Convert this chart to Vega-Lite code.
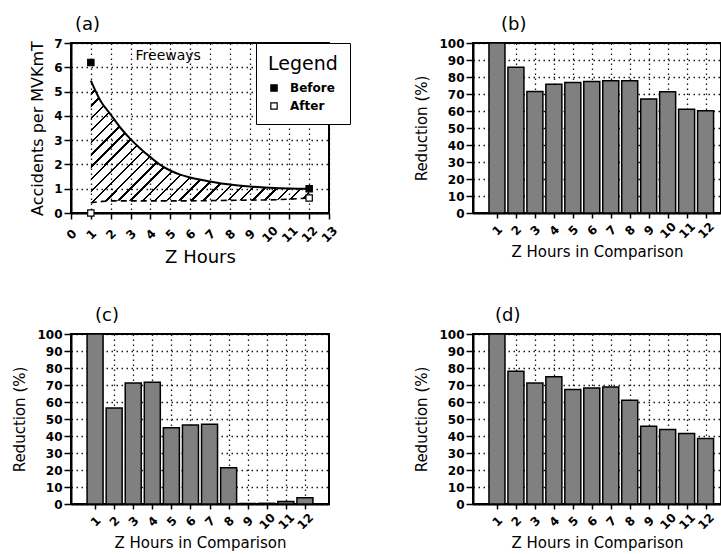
{
  "$schema": "https://vega.github.io/schema/vega-lite/v6.json",
  "background": "white",
  "padding": {"left": 11, "top": 15, "right": 0, "bottom": 0},
  "columns": 2,
  "bounds": "flush",
  "align": "all",
  "spacing": {"row": 121, "column": 144},
  "datasets": {
    "curve": [
      {"z": 1, "before": 5.45, "after": 0.42},
      {"z": 1.5, "before": 4.6, "after": 0.47},
      {"z": 2, "before": 4.05, "after": 0.5},
      {"z": 2.5, "before": 3.5, "after": 0.5},
      {"z": 3, "before": 3.04, "after": 0.5},
      {"z": 3.5, "before": 2.65, "after": 0.5},
      {"z": 4, "before": 2.3, "after": 0.5},
      {"z": 4.5, "before": 1.98, "after": 0.5},
      {"z": 5, "before": 1.75, "after": 0.5},
      {"z": 5.5, "before": 1.58, "after": 0.5},
      {"z": 6, "before": 1.46, "after": 0.5},
      {"z": 7, "before": 1.3, "after": 0.51},
      {"z": 8, "before": 1.17, "after": 0.52},
      {"z": 9, "before": 1.09, "after": 0.53},
      {"z": 10, "before": 1.04, "after": 0.54},
      {"z": 11, "before": 1.01, "after": 0.57},
      {"z": 12, "before": 1.0, "after": 0.62}
    ],
    "markers": [
      {"z": 1, "value": 6.2, "series": "Before"},
      {"z": 12, "value": 1.0, "series": "Before"},
      {"z": 1, "value": 0.0, "series": "After"},
      {"z": 12, "value": 0.62, "series": "After"}
    ],
    "b": [
      {"z": 1, "reduction": 100}, {"z": 2, "reduction": 85.7}, {"z": 3, "reduction": 71.5},
      {"z": 4, "reduction": 75.8}, {"z": 5, "reduction": 76.8}, {"z": 6, "reduction": 77.4},
      {"z": 7, "reduction": 77.8}, {"z": 8, "reduction": 77.8}, {"z": 9, "reduction": 67},
      {"z": 10, "reduction": 71.3}, {"z": 11, "reduction": 61.1}, {"z": 12, "reduction": 60.2}
    ],
    "c": [
      {"z": 1, "reduction": 100}, {"z": 2, "reduction": 56.4}, {"z": 3, "reduction": 71.2},
      {"z": 4, "reduction": 71.6}, {"z": 5, "reduction": 44.9}, {"z": 6, "reduction": 46.4},
      {"z": 7, "reduction": 46.9}, {"z": 8, "reduction": 21.3}, {"z": 9, "reduction": 0.3},
      {"z": 10, "reduction": 0.4}, {"z": 11, "reduction": 1.4}, {"z": 12, "reduction": 3.7}
    ],
    "d": [
      {"z": 1, "reduction": 100}, {"z": 2, "reduction": 78.1}, {"z": 3, "reduction": 71.2},
      {"z": 4, "reduction": 74.8}, {"z": 5, "reduction": 67.3}, {"z": 6, "reduction": 68.3},
      {"z": 7, "reduction": 68.8}, {"z": 8, "reduction": 61}, {"z": 9, "reduction": 45.8},
      {"z": 10, "reduction": 43.8}, {"z": 11, "reduction": 41.5}, {"z": 12, "reduction": 38.6}
    ]
  },
  "concat": [
    {
      "width": 258,
      "height": 170,
      "title": {"text": "(a)", "dx": 4, "offset": 3},
      "layer": [
        {
          "data": {"name": "curve"},
          "mark": {
            "type": "area",
            "interpolate": "monotone",
            "opacity": 1,
            "fill": {
              "gradient": "linear", "x1": 0, "y1": 0, "x2": 1.19, "y2": 0.665,
              "stops": [
                {"offset": 0, "color": "#000"}, {"offset": 0.0071, "color": "#000"}, {"offset": 0.0071, "color": "rgba(255,255,255,0)"}, {"offset": 0.0357, "color": "rgba(255,255,255,0)"},
                {"offset": 0.0357, "color": "#000"}, {"offset": 0.0429, "color": "#000"}, {"offset": 0.0429, "color": "rgba(255,255,255,0)"}, {"offset": 0.0714, "color": "rgba(255,255,255,0)"},
                {"offset": 0.0714, "color": "#000"}, {"offset": 0.0786, "color": "#000"}, {"offset": 0.0786, "color": "rgba(255,255,255,0)"}, {"offset": 0.1071, "color": "rgba(255,255,255,0)"},
                {"offset": 0.1071, "color": "#000"}, {"offset": 0.1143, "color": "#000"}, {"offset": 0.1143, "color": "rgba(255,255,255,0)"}, {"offset": 0.1429, "color": "rgba(255,255,255,0)"},
                {"offset": 0.1429, "color": "#000"}, {"offset": 0.15, "color": "#000"}, {"offset": 0.15, "color": "rgba(255,255,255,0)"}, {"offset": 0.1786, "color": "rgba(255,255,255,0)"},
                {"offset": 0.1786, "color": "#000"}, {"offset": 0.1857, "color": "#000"}, {"offset": 0.1857, "color": "rgba(255,255,255,0)"}, {"offset": 0.2143, "color": "rgba(255,255,255,0)"},
                {"offset": 0.2143, "color": "#000"}, {"offset": 0.2214, "color": "#000"}, {"offset": 0.2214, "color": "rgba(255,255,255,0)"}, {"offset": 0.25, "color": "rgba(255,255,255,0)"},
                {"offset": 0.25, "color": "#000"}, {"offset": 0.2571, "color": "#000"}, {"offset": 0.2571, "color": "rgba(255,255,255,0)"}, {"offset": 0.2857, "color": "rgba(255,255,255,0)"},
                {"offset": 0.2857, "color": "#000"}, {"offset": 0.2929, "color": "#000"}, {"offset": 0.2929, "color": "rgba(255,255,255,0)"}, {"offset": 0.3214, "color": "rgba(255,255,255,0)"},
                {"offset": 0.3214, "color": "#000"}, {"offset": 0.3286, "color": "#000"}, {"offset": 0.3286, "color": "rgba(255,255,255,0)"}, {"offset": 0.3571, "color": "rgba(255,255,255,0)"},
                {"offset": 0.3571, "color": "#000"}, {"offset": 0.3643, "color": "#000"}, {"offset": 0.3643, "color": "rgba(255,255,255,0)"}, {"offset": 0.3929, "color": "rgba(255,255,255,0)"},
                {"offset": 0.3929, "color": "#000"}, {"offset": 0.4, "color": "#000"}, {"offset": 0.4, "color": "rgba(255,255,255,0)"}, {"offset": 0.4286, "color": "rgba(255,255,255,0)"},
                {"offset": 0.4286, "color": "#000"}, {"offset": 0.4357, "color": "#000"}, {"offset": 0.4357, "color": "rgba(255,255,255,0)"}, {"offset": 0.4643, "color": "rgba(255,255,255,0)"},
                {"offset": 0.4643, "color": "#000"}, {"offset": 0.4714, "color": "#000"}, {"offset": 0.4714, "color": "rgba(255,255,255,0)"}, {"offset": 0.5, "color": "rgba(255,255,255,0)"},
                {"offset": 0.5, "color": "#000"}, {"offset": 0.5071, "color": "#000"}, {"offset": 0.5071, "color": "rgba(255,255,255,0)"}, {"offset": 0.5357, "color": "rgba(255,255,255,0)"},
                {"offset": 0.5357, "color": "#000"}, {"offset": 0.5429, "color": "#000"}, {"offset": 0.5429, "color": "rgba(255,255,255,0)"}, {"offset": 0.5714, "color": "rgba(255,255,255,0)"},
                {"offset": 0.5714, "color": "#000"}, {"offset": 0.5786, "color": "#000"}, {"offset": 0.5786, "color": "rgba(255,255,255,0)"}, {"offset": 0.6071, "color": "rgba(255,255,255,0)"},
                {"offset": 0.6071, "color": "#000"}, {"offset": 0.6143, "color": "#000"}, {"offset": 0.6143, "color": "rgba(255,255,255,0)"}, {"offset": 0.6429, "color": "rgba(255,255,255,0)"},
                {"offset": 0.6429, "color": "#000"}, {"offset": 0.65, "color": "#000"}, {"offset": 0.65, "color": "rgba(255,255,255,0)"}, {"offset": 0.6786, "color": "rgba(255,255,255,0)"},
                {"offset": 0.6786, "color": "#000"}, {"offset": 0.6857, "color": "#000"}, {"offset": 0.6857, "color": "rgba(255,255,255,0)"}, {"offset": 0.7143, "color": "rgba(255,255,255,0)"},
                {"offset": 0.7143, "color": "#000"}, {"offset": 0.7214, "color": "#000"}, {"offset": 0.7214, "color": "rgba(255,255,255,0)"}, {"offset": 0.75, "color": "rgba(255,255,255,0)"},
                {"offset": 0.75, "color": "#000"}, {"offset": 0.7571, "color": "#000"}, {"offset": 0.7571, "color": "rgba(255,255,255,0)"}, {"offset": 0.7857, "color": "rgba(255,255,255,0)"},
                {"offset": 0.7857, "color": "#000"}, {"offset": 0.7929, "color": "#000"}, {"offset": 0.7929, "color": "rgba(255,255,255,0)"}, {"offset": 0.8214, "color": "rgba(255,255,255,0)"},
                {"offset": 0.8214, "color": "#000"}, {"offset": 0.8286, "color": "#000"}, {"offset": 0.8286, "color": "rgba(255,255,255,0)"}, {"offset": 0.8571, "color": "rgba(255,255,255,0)"},
                {"offset": 0.8571, "color": "#000"}, {"offset": 0.8643, "color": "#000"}, {"offset": 0.8643, "color": "rgba(255,255,255,0)"}, {"offset": 0.8929, "color": "rgba(255,255,255,0)"},
                {"offset": 0.8929, "color": "#000"}, {"offset": 0.9, "color": "#000"}, {"offset": 0.9, "color": "rgba(255,255,255,0)"}, {"offset": 0.9286, "color": "rgba(255,255,255,0)"},
                {"offset": 0.9286, "color": "#000"}, {"offset": 0.9357, "color": "#000"}, {"offset": 0.9357, "color": "rgba(255,255,255,0)"}, {"offset": 0.9643, "color": "rgba(255,255,255,0)"},
                {"offset": 0.9643, "color": "#000"}, {"offset": 0.9714, "color": "#000"}, {"offset": 0.9714, "color": "rgba(255,255,255,0)"}, {"offset": 1, "color": "rgba(255,255,255,0)"}
              ]
            }
          },
          "encoding": {
            "x": {
              "field": "z", "type": "quantitative",
              "scale": {"domain": [0, 13], "nice": false},
              "axis": {
                "values": [0, 1, 2, 3, 4, 5, 6, 7, 8, 9, 10, 11, 12, 13],
                "title": "Z Hours", "titleFontSize": 18, "titlePadding": 4,
                "labelAngle": -45, "labelAlign": "center", "labelBaseline": "middle",
                "labelPadding": 15, "tickSize": 6, "grid": true,
                "labelFlush": false, "labelOverlap": false, "format": "d"
              }
            },
            "y": {
              "field": "before", "type": "quantitative",
              "scale": {"domain": [0, 7], "nice": false},
              "axis": {
                "values": [0, 1, 2, 3, 4, 5, 6, 7],
                "title": "Accidents per MVKmT", "titleFontSize": 16, "titlePadding": 8,
                "grid": true, "format": "d", "labelOverlap": false, "labelFlush": false
              }
            },
            "y2": {"field": "after"}
          }
        },
        {
          "data": {"name": "curve"},
          "mark": {"type": "line", "interpolate": "monotone", "color": "black", "strokeWidth": 2},
          "encoding": {
            "x": {
              "field": "z", "type": "quantitative",
              "axis": {
                "values": [0, 1, 2, 3, 4, 5, 6, 7, 8, 9, 10, 11, 12, 13],
                "title": "Z Hours", "titleFontSize": 18, "titlePadding": 4,
                "labelAngle": -45, "labelAlign": "center", "labelBaseline": "middle",
                "labelPadding": 15, "tickSize": 6, "grid": true,
                "labelFlush": false, "labelOverlap": false, "format": "d"
              }
            },
            "y": {
              "field": "before", "type": "quantitative",
              "axis": {
                "values": [0, 1, 2, 3, 4, 5, 6, 7],
                "title": "Accidents per MVKmT", "titleFontSize": 16, "titlePadding": 8,
                "grid": true, "format": "d", "labelOverlap": false, "labelFlush": false
              }
            }
          }
        },
        {
          "data": {"name": "curve"},
          "mark": {"type": "line", "interpolate": "monotone", "color": "black", "strokeWidth": 1.6, "strokeDash": [6, 4]},
          "encoding": {
            "x": {
              "field": "z", "type": "quantitative",
              "axis": {
                "values": [0, 1, 2, 3, 4, 5, 6, 7, 8, 9, 10, 11, 12, 13],
                "title": "Z Hours", "titleFontSize": 18, "titlePadding": 4,
                "labelAngle": -45, "labelAlign": "center", "labelBaseline": "middle",
                "labelPadding": 15, "tickSize": 6, "grid": true,
                "labelFlush": false, "labelOverlap": false, "format": "d"
              }
            },
            "y": {
              "field": "after", "type": "quantitative",
              "axis": {
                "values": [0, 1, 2, 3, 4, 5, 6, 7],
                "title": "Accidents per MVKmT", "titleFontSize": 16, "titlePadding": 8,
                "grid": true, "format": "d", "labelOverlap": false, "labelFlush": false
              }
            }
          }
        },
        {
          "data": {"name": "markers"},
          "mark": {"type": "point", "shape": "square", "filled": true, "stroke": "black", "strokeWidth": 1.2, "size": 40, "opacity": 1},
          "encoding": {
            "x": {
              "field": "z", "type": "quantitative",
              "axis": {
                "values": [0, 1, 2, 3, 4, 5, 6, 7, 8, 9, 10, 11, 12, 13],
                "title": "Z Hours", "titleFontSize": 18, "titlePadding": 4,
                "labelAngle": -45, "labelAlign": "center", "labelBaseline": "middle",
                "labelPadding": 15, "tickSize": 6, "grid": true,
                "labelFlush": false, "labelOverlap": false, "format": "d"
              }
            },
            "y": {
              "field": "value", "type": "quantitative",
              "axis": {
                "values": [0, 1, 2, 3, 4, 5, 6, 7],
                "title": "Accidents per MVKmT", "titleFontSize": 16, "titlePadding": 8,
                "grid": true, "format": "d", "labelOverlap": false, "labelFlush": false
              }
            },
            "fill": {
              "field": "series", "type": "nominal",
              "scale": {"domain": ["Before", "After"], "range": ["black", "white"]},
              "legend": {
                "title": "Legend", "orient": "none", "legendX": 185, "legendY": 0,
                "titleFontSize": 19, "titleFontWeight": "normal", "titleColor": "black", "titleFont": "DejaVu Sans",
                "labelFontSize": 12, "labelFontWeight": "bold", "labelColor": "black", "labelFont": "DejaVu Sans",
                "symbolType": "square", "symbolSize": 40, "symbolStrokeColor": "black", "symbolStrokeWidth": 1.2,
                "strokeColor": "black", "fillColor": "white", "padding": 12, "rowPadding": 6,
                "titlePadding": 8, "labelOffset": 10, "zindex": 2
              }
            }
          }
        },
        {
          "data": {"values": [{}]},
          "mark": {"type": "text", "text": "Freeways", "fontSize": 14, "font": "DejaVu Sans", "color": "black"},
          "encoding": {
            "x": {
              "datum": 4.9, "type": "quantitative",
              "axis": {
                "values": [0, 1, 2, 3, 4, 5, 6, 7, 8, 9, 10, 11, 12, 13],
                "title": "Z Hours", "titleFontSize": 18, "titlePadding": 4,
                "labelAngle": -45, "labelAlign": "center", "labelBaseline": "middle",
                "labelPadding": 15, "tickSize": 6, "grid": true,
                "labelFlush": false, "labelOverlap": false, "format": "d"
              }
            },
            "y": {
              "datum": 6.45, "type": "quantitative",
              "axis": {
                "values": [0, 1, 2, 3, 4, 5, 6, 7],
                "title": "Accidents per MVKmT", "titleFontSize": 16, "titlePadding": 8,
                "grid": true, "format": "d", "labelOverlap": false, "labelFlush": false
              }
            }
          }
        }
      ]
    },
    {
      "width": 248,
      "height": 170,
      "title": {"text": "(b)", "dx": 28, "offset": 3},
      "data": {"name": "b"},
      "mark": {"type": "bar", "fill": "#808080", "stroke": "black", "strokeWidth": 1.5, "size": 16},
      "encoding": {
        "x": {
          "field": "z", "type": "quantitative",
          "scale": {"domain": [0, 12.55], "nice": false},
          "axis": {
            "values": [1, 2, 3, 4, 5, 6, 7, 8, 9, 10, 11, 12],
            "title": "Z Hours in Comparison", "titleFontSize": 15, "titlePadding": 4,
            "labelAngle": -45, "labelAlign": "center", "labelBaseline": "middle",
            "labelPadding": 12, "tickSize": 5, "grid": true,
            "labelFlush": false, "labelOverlap": false, "format": "d"
          }
        },
        "y": {
          "field": "reduction", "type": "quantitative",
          "scale": {"domain": [0, 100], "nice": false},
          "axis": {
            "values": [0, 10, 20, 30, 40, 50, 60, 70, 80, 90, 100],
            "title": "Reduction (%)", "titleFontSize": 15, "titlePadding": 9,
            "grid": true, "format": "d", "labelOverlap": false, "labelFlush": false
          }
        }
      }
    },
    {
      "width": 258,
      "height": 170,
      "title": {"text": "(c)", "dx": 24, "offset": 3},
      "data": {"name": "c"},
      "mark": {"type": "bar", "fill": "#808080", "stroke": "black", "strokeWidth": 1.5, "size": 16},
      "encoding": {
        "x": {
          "field": "z", "type": "quantitative",
          "scale": {"domain": [0, 13], "nice": false},
          "axis": {
            "values": [1, 2, 3, 4, 5, 6, 7, 8, 9, 10, 11, 12],
            "title": "Z Hours in Comparison", "titleFontSize": 15, "titlePadding": 4,
            "labelAngle": -45, "labelAlign": "center", "labelBaseline": "middle",
            "labelPadding": 12, "tickSize": 5, "grid": true,
            "labelFlush": false, "labelOverlap": false, "format": "d"
          }
        },
        "y": {
          "field": "reduction", "type": "quantitative",
          "scale": {"domain": [0, 100], "nice": false},
          "axis": {
            "values": [0, 10, 20, 30, 40, 50, 60, 70, 80, 90, 100],
            "title": "Reduction (%)", "titleFontSize": 15, "titlePadding": 9,
            "grid": true, "format": "d", "labelOverlap": false, "labelFlush": false
          }
        }
      }
    },
    {
      "width": 248,
      "height": 170,
      "title": {"text": "(d)", "dx": 22, "offset": 3},
      "data": {"name": "d"},
      "mark": {"type": "bar", "fill": "#808080", "stroke": "black", "strokeWidth": 1.5, "size": 16},
      "encoding": {
        "x": {
          "field": "z", "type": "quantitative",
          "scale": {"domain": [0, 12.55], "nice": false},
          "axis": {
            "values": [1, 2, 3, 4, 5, 6, 7, 8, 9, 10, 11, 12],
            "title": "Z Hours in Comparison", "titleFontSize": 15, "titlePadding": 4,
            "labelAngle": -45, "labelAlign": "center", "labelBaseline": "middle",
            "labelPadding": 12, "tickSize": 5, "grid": true,
            "labelFlush": false, "labelOverlap": false, "format": "d"
          }
        },
        "y": {
          "field": "reduction", "type": "quantitative",
          "scale": {"domain": [0, 100], "nice": false},
          "axis": {
            "values": [0, 10, 20, 30, 40, 50, 60, 70, 80, 90, 100],
            "title": "Reduction (%)", "titleFontSize": 15, "titlePadding": 9,
            "grid": true, "format": "d", "labelOverlap": false, "labelFlush": false
          }
        }
      }
    }
  ],
  "config": {
    "font": "DejaVu Sans",
    "view": {"stroke": "black", "strokeWidth": 2},
    "title": {"font": "DejaVu Sans", "fontSize": 18, "fontWeight": "normal", "anchor": "start", "frame": "group", "color": "black"},
    "axis": {
      "domainColor": "black", "domainWidth": 2,
      "tickColor": "black", "tickWidth": 1.5,
      "labelColor": "black", "labelFont": "DejaVu Sans", "labelFontWeight": "bold", "labelFontSize": 12,
      "titleFont": "DejaVu Sans", "titleFontWeight": "normal", "titleColor": "black",
      "gridColor": "black", "gridDash": [1.5, 3.5], "gridWidth": 1.3, "gridOpacity": 0.9
    },
    "axisY": {"tickSize": 7, "labelPadding": 2}
  }
}
